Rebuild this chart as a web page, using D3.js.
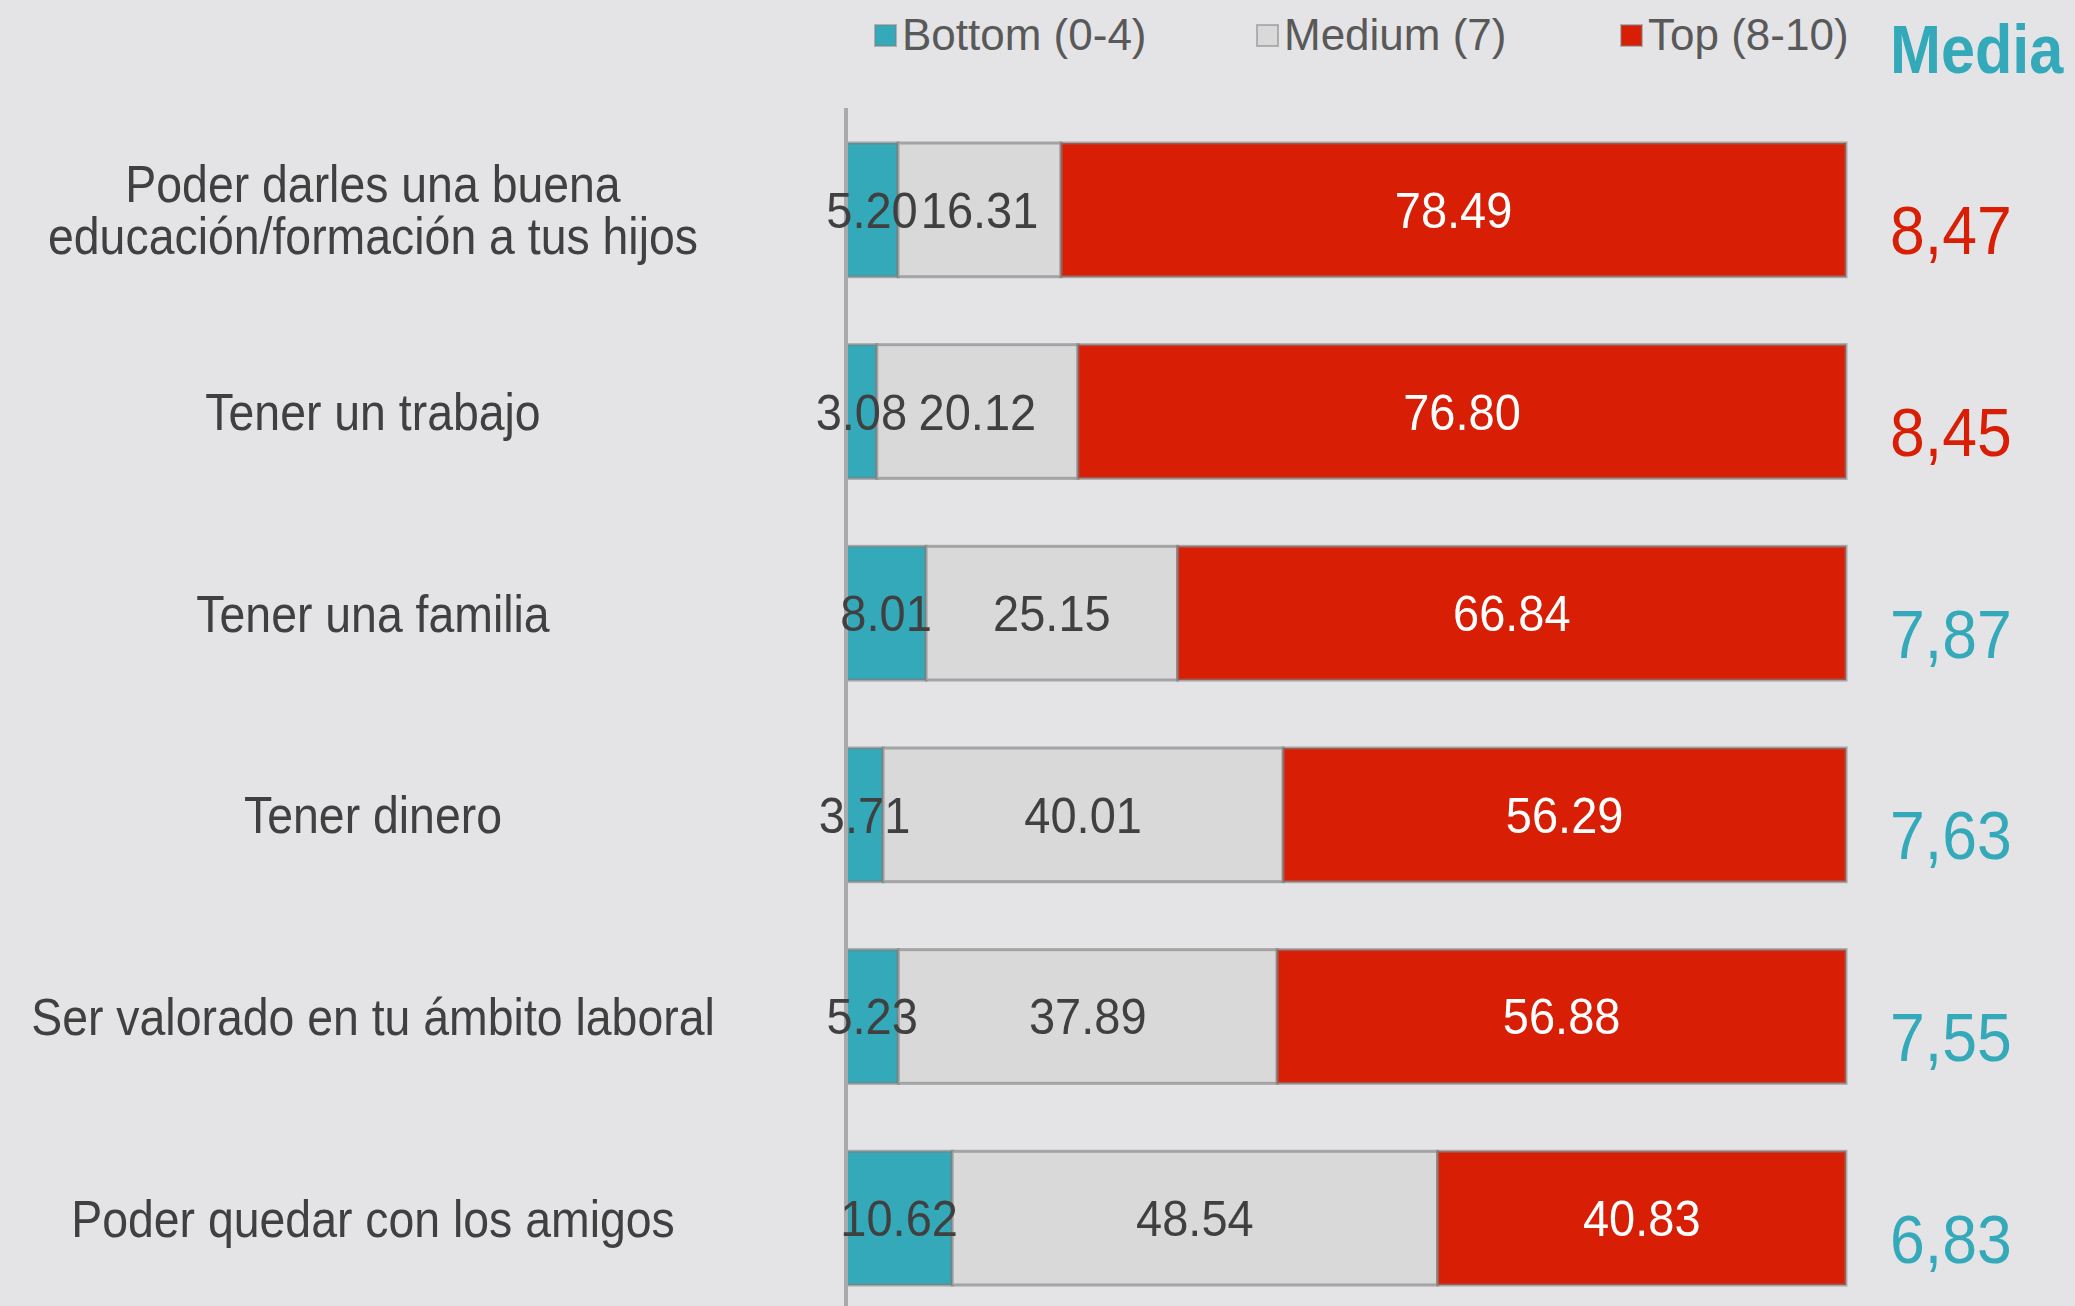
<!DOCTYPE html>
<html>
<head>
<meta charset="utf-8">
<script src="https://cdn.jsdelivr.net/npm/d3@7"></script>
<style>
    body { margin: 0; background: #e4e4e6; }
    svg { display: block; }
</style>
</head>
<body>
<div id="chart"></div>
<script>
const categories = [
    'Poder darles una buena\neducación/formación a tus hijos',
    'Tener un trabajo',
    'Tener una familia',
    'Tener dinero',
    'Ser valorado en tu ámbito laboral',
    'Poder quedar con los amigos'
];
const bottomVals = [5.20, 3.08, 8.01, 3.71, 5.23, 10.62];
const mediumVals = [16.31, 20.12, 25.15, 40.01, 37.89, 48.54];
const topVals = [78.49, 76.80, 66.84, 56.29, 56.88, 40.83];
const mediaVals = [8.47, 8.45, 7.87, 7.63, 7.55, 6.83];
const seriesKeys = ['bottom', 'medium', 'top'];
const seriesNames = ['Bottom (0-4)', 'Medium (7)', 'Top (8-10)'];

const fillColor = {
    'bottom': '#34a9b9',
    'medium': '#d9d9d9',
    'top': '#d81e05'
}
const labelColor = {
    'bottom': '#404040',
    'medium': '#404040',
    'top': '#ffffff'
}

function drawChart() {
    var width = 2075,
        height = 1306;

    var svg = d3.select('#chart').append('svg')
        .attr('width', width)
        .attr('height', height);

    var rows = categories.map(function (c, i) {
        return { cat: c, bottom: bottomVals[i], medium: mediumVals[i], top: topVals[i], media: mediaVals[i] };
    });

    var xScale = d3.scaleLinear()
        .domain([0, 100])
        .range([846, 1846]);

    var yScale = d3.scaleBand()
        .domain(categories)
        .range([143, 1285])
        .paddingInner(0.337)
        .paddingOuter(0);

    var stacked = d3.stack().keys(seriesKeys)(rows);

    // flatten segments so all rects go under all labels
    var segments = [];
    stacked.forEach(function (s) {
        s.forEach(function (d) { segments.push({ key: s.key, d: d }); });
    });

    // bars
    svg.append('g').selectAll('rect')
        .data(segments)
        .enter().append('rect')
        .attr('x', function (p) { return xScale(p.d[0]); })
        .attr('y', function (p) { return yScale(p.d.data.cat); })
        .attr('width', function (p) { return xScale(p.d[1]) - xScale(p.d[0]); })
        .attr('height', yScale.bandwidth())
        .attr('fill', function (p) { return fillColor[p.key]; })
        .attr('stroke', 'rgba(125,125,125,0.6)')
        .attr('stroke-width', 3);

    // vertical axis line
    svg.append('line')
        .attr('x1', xScale(0)).attr('x2', xScale(0))
        .attr('y1', 108).attr('y2', height)
        .attr('stroke', '#a9a9a9')
        .attr('stroke-width', 4);

    // value labels
    svg.append('g').selectAll('text')
        .data(segments)
        .enter().append('text')
        .attr('transform', function (p) {
            var cx = (xScale(p.d[0]) + xScale(p.d[1])) / 2;
            var cy = yScale(p.d.data.cat) + yScale.bandwidth() / 2;
            return 'translate(' + cx + ',' + cy + ') scale(0.94,1)';
        })
        .attr('dy', '0.36em')
        .attr('text-anchor', 'middle')
        .style('font-family', 'Liberation Sans, Arial, sans-serif')
        .style('font-size', '50px')
        .attr('fill', function (p) { return labelColor[p.key]; })
        .text(function (p) { return d3.format('.2f')(p.d.data[p.key]); });

    // category labels
    var cat = svg.selectAll('text.cat')
        .data(categories)
        .enter().append('text')
        .attr('class', 'cat')
        .attr('transform', function (d) {
            return 'translate(373,' + (yScale(d) + yScale.bandwidth() / 2) + ') scale(0.91,1)';
        })
        .attr('text-anchor', 'middle')
        .style('font-family', 'Liberation Sans, Arial, sans-serif')
        .style('font-size', '51px')
        .attr('fill', '#404040');

    cat.selectAll('tspan')
        .data(function (d) {
            var lines = d.split('\n');
            return lines.map(function (l, i) { return { t: l, i: i, n: lines.length }; });
        })
        .enter().append('tspan')
        .attr('x', 0)
        .attr('y', function (l) { return (l.i - (l.n - 1) / 2) * 52; })
        .attr('dy', '0.36em')
        .text(function (l) { return l.t; });

    // Media column
    svg.append('text')
        .attr('transform', 'translate(1890,73) scale(0.9,1)')
        .style('font-family', 'Liberation Sans, Arial, sans-serif')
        .style('font-size', '68px')
        .style('font-weight', 'bold')
        .attr('fill', '#34a9b9')
        .text('Media');

    svg.selectAll('text.media')
        .data(rows)
        .enter().append('text')
        .attr('class', 'media')
        .attr('transform', function (d) {
            return 'translate(1890,' + (yScale(d.cat) + yScale.bandwidth() / 2 + 20) + ') scale(0.92,1)';
        })
        .attr('dy', '0.36em')
        .style('font-family', 'Liberation Sans, Arial, sans-serif')
        .style('font-size', '68px')
        .attr('fill', function (d) { return d.media >= 8 ? '#d81e05' : '#34a9b9'; })
        .text(function (d) { return d3.format('.2f')(d.media).replace('.', ','); });

    // Legend
    var legendX = [875, 1257, 1621];
    var legend = svg.selectAll('g.legend')
        .data(seriesKeys)
        .enter().append('g')
        .attr('class', 'legend')
        .attr('transform', function (d, i) { return 'translate(' + legendX[i] + ',25)'; });

    legend.append('rect')
        .attr('width', 21)
        .attr('height', 21)
        .attr('fill', function (d) { return fillColor[d]; })
        .attr('stroke', 'rgba(125,125,125,0.5)')
        .attr('stroke-width', 2);

    legend.append('text')
        .attr('x', 27)
        .attr('y', 25)
        .style('font-family', 'Liberation Sans, Arial, sans-serif')
        .style('font-size', '44px')
        .attr('fill', '#595959')
        .text(function (d, i) { return seriesNames[i]; });
}

drawChart();
</script>
</body>
</html>
